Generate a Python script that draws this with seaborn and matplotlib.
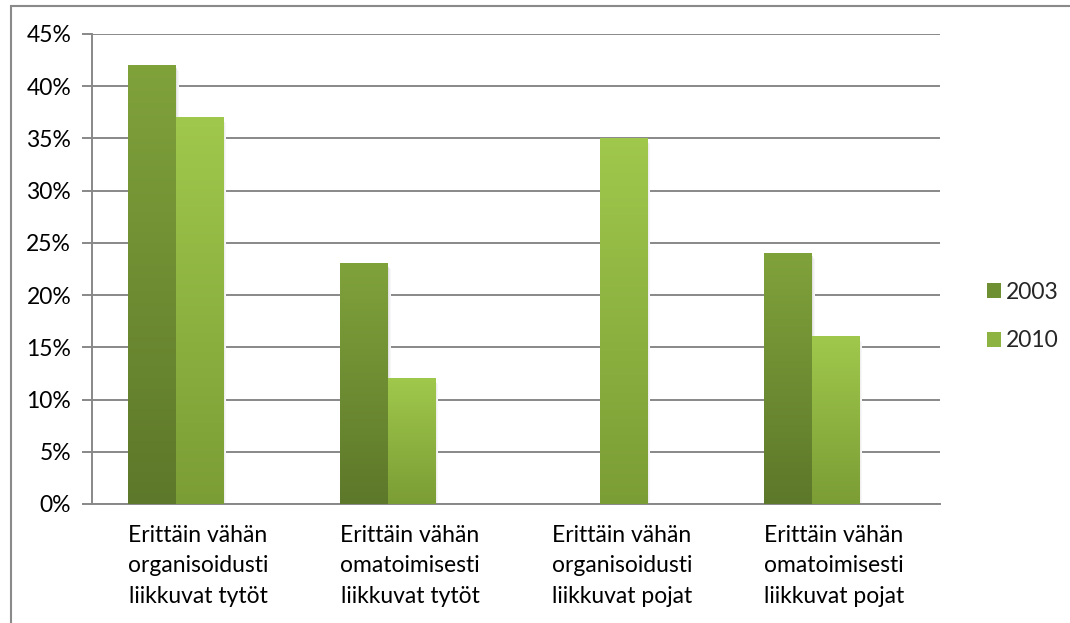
import numpy as np
import pandas as pd
import matplotlib
matplotlib.use("Agg")
import matplotlib.pyplot as plt
import seaborn as sns
from matplotlib.patches import Patch, Rectangle
from matplotlib.colors import LinearSegmentedColormap

# ---- data ----
categories = [
    "Erittäin vähän\norganisoidusti\nliikkuvat tytöt",
    "Erittäin vähän\nomatoimisesti\nliikkuvat tytöt",
    "Erittäin vähän\norganisoidusti\nliikkuvat pojat",
    "Erittäin vähän\nomatoimisesti\nliikkuvat pojat",
]
series_names = ["2003", "2010"]
values_2003 = [0.42, 0.23, 0.0, 0.24]
values_2010 = [0.37, 0.12, 0.35, 0.16]
yticks = [0, 0.05, 0.10, 0.15, 0.20, 0.25, 0.30, 0.35, 0.40, 0.45]
ytick_labels = ["0%", "5%", "10%", "15%", "20%", "25%", "30%", "35%", "40%", "45%"]

pad_name = "_empty"
df = pd.DataFrame({
    "cat": categories * 3,
    "series": ["2003"] * 4 + ["2010"] * 4 + [pad_name] * 4,
    "val": values_2003 + values_2010 + [0.0] * 4,
})

# gradient colours (bottom, top)
grad = {
    "2003": ("#5d782a", "#80a23b"),
    "2010": ("#7b9d35", "#a0c84c"),
}

sns.set_theme(style="white")
plt.rcParams["font.family"] = ["Lato", "DejaVu Sans"]

FS = 16.5
W, H = 1070, 623
fig = plt.figure(figsize=(W / 100, H / 100), dpi=100)
L, R, T, B = 92, 940, 34, 504
ax = fig.add_axes([L / W, 1 - B / H, (R - L) / W, (B - T) / H])

sns.barplot(data=df, x="cat", y="val", hue="series",
            hue_order=["2003", "2010", pad_name], order=categories,
            width=142 / 212, gap=0, ax=ax, legend=False,
            palette=["#6f8f33", "#8db443", "#ffffff"], linewidth=0, saturation=1)

# replace patches with gradient images
n = len(categories)
order_series = ["2003", "2010", pad_name]
patches = list(ax.patches)
for i, p in enumerate(patches):
    s = order_series[i // n] if len(patches) == 3 * n else None
    x0, y0 = p.get_x() + 0.006, p.get_y()
    w, h = p.get_width(), p.get_height()
    if s not in grad or h <= 0:
        p.set_visible(False)
        continue
    p.set_visible(False)
    cm = LinearSegmentedColormap.from_list("g", [grad[s][0], grad[s][1]])
    img = np.linspace(0, 1, 256).reshape(-1, 1)
    # soft shadow
    for k, c in enumerate(["#e2e2e2", "#efefef", "#f7f7f7"]):
        ax.add_patch(Rectangle((x0 + w + k * 0.0048, y0), 0.0048, h - 0.003 - k * 0.001,
                               facecolor=c, edgecolor="none", zorder=2.5))
    ax.imshow(img, extent=(x0, x0 + w, y0, y0 + h), origin="lower", cmap=cm,
              aspect="auto", zorder=3, interpolation="bilinear")
ax.set_xlim(-0.5, 3.5)
ax.set_ylim(0, 0.45)

# grid & axes
ax.set_yticks(yticks)
ax.set_yticklabels(ytick_labels, fontsize=FS, color="#000000")
ax.yaxis.grid(True, color="#888888", linewidth=1.4)
ax.set_axisbelow(True)
ax.xaxis.grid(False)
ax.set_xticks(range(n))
ax.set_xticklabels(categories, fontsize=FS, color="#000000", linespacing=1.55)
ax.set_xticks(np.arange(-0.5, n, 1.0), minor=True)
ax.tick_params(axis="x", which="major", length=0, pad=15)
ax.tick_params(axis="x", which="minor", length=7, width=1.4, color="#888888", direction="out")
ax.tick_params(axis="y", length=7, width=1.4, color="#888888", direction="out", pad=8, left=True)
ax.set_xlabel("")
ax.set_ylabel("")
for side in ["top", "right"]:
    ax.spines[side].set_visible(False)
for side in ["left", "bottom"]:
    ax.spines[side].set_color("#888888")
    ax.spines[side].set_linewidth(1.4)

# legend
handles = [Patch(facecolor="#6f8f33", edgecolor="none"),
           Patch(facecolor="#8db443", edgecolor="none")]
fig.legend(handles, series_names, loc="center left",
           bbox_to_anchor=(966 / W, 1 - 316.5 / H), frameon=False,
           fontsize=FS, handlelength=0.62, handleheight=0.62,
           handletextpad=0.2, labelspacing=1.2)

# outer chart border
fig.add_artist(Rectangle((10.5 / W, -0.1), 1.2, (1 - 5.5 / H) + 0.1,
                         transform=fig.transFigure, fill=False,
                         edgecolor="#8a8a8a", linewidth=1.5))

fig.savefig("out.png", dpi=100)
